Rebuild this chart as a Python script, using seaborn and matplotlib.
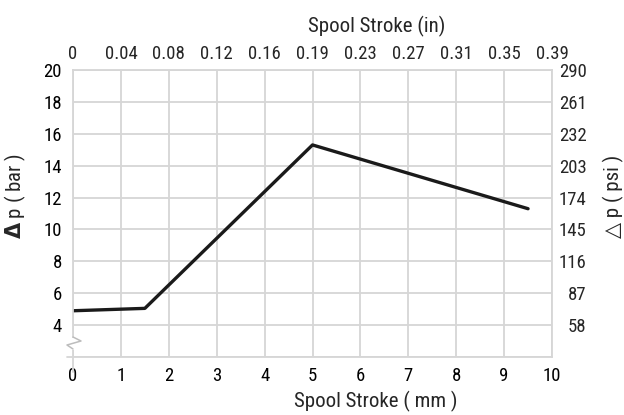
import matplotlib
matplotlib.use("Agg")
import matplotlib.pyplot as plt
from matplotlib import font_manager as fm
from matplotlib.patches import Rectangle
import seaborn as sns
import pandas as pd

# Pressure drop vs spool stroke
stroke_mm = [0.0, 1.5, 5.0, 9.5]
dp_bar = [4.9, 5.05, 15.3, 11.3]

mm_ticks = [0, 1, 2, 3, 4, 5, 6, 7, 8, 9, 10]
in_labels = ["0", "0.04", "0.08", "0.12", "0.16", "0.19", "0.23", "0.27", "0.31", "0.35", "0.39"]
bar_ticks = [4, 6, 8, 10, 12, 14, 16, 18, 20]
psi_labels = ["58", "87", "116", "145", "174", "203", "232", "261", "290"]

sns.set_style("whitegrid")

# pick a condensed sans face
available = {f.name for f in fm.fontManager.ttflist}
narrow = next((n for n in ["Liberation Sans Narrow", "Roboto Condensed", "PT Sans Narrow",
                           "Archivo Narrow", "Arimo"] if n in available), "DejaVu Sans")
FONT = [narrow, "DejaVu Sans"]
plt.rcParams["font.family"] = FONT
plt.rcParams["mathtext.fontset"] = "dejavusans"

GRID = "#d6d6d6"
TS = 13.5
LS = 15
fig = plt.figure(figsize=(6.24, 4.15), dpi=100)
ax = fig.add_axes([73 / 624, 58 / 415, 479 / 624, 287 / 415])

df = pd.DataFrame({"mm": stroke_mm, "bar": dp_bar})
sns.lineplot(data=df, x="mm", y="bar", ax=ax, color="#1a1a1a", linewidth=2.4)

ax.set_xlim(0, 10)
ax.set_ylim(2, 20)
ax.set_xticks(mm_ticks)
ax.set_yticks([2] + bar_ticks)
ax.set_yticklabels([""] + [str(v) for v in bar_ticks])
ax.grid(True, color=GRID, linewidth=1.3)
for s in ax.spines.values():
    s.set_color(GRID)
    s.set_linewidth(1.3)
ax.tick_params(axis="both", length=0, labelsize=TS, colors="black")
ax.tick_params(axis="x", pad=7)
ax.tick_params(axis="y", pad=8)

ax.set_xlabel("Spool Stroke ( mm )", fontsize=LS)
ax.xaxis.set_label_coords(0.633, -0.118)
ax.set_ylabel(r"$\mathbf{\Delta}$ p ( bar )", fontsize=LS)
ax.yaxis.set_label_coords(-0.094, 0.56)

# Top axis in inches
axt = ax.twiny()
axt.set_xlim(ax.get_xlim())
axt.set_xticks(mm_ticks)
axt.set_xticklabels(in_labels)
axt.tick_params(axis="x", length=0, labelsize=TS, pad=5)
axt.grid(False)
for s in axt.spines.values():
    s.set_visible(False)
axt.set_xlabel("Spool Stroke (in)", fontsize=LS)
axt.xaxis.set_label_coords(0.633, 1.132)

# Right axis in psi
axr = ax.twinx()
axr.set_ylim(ax.get_ylim())
axr.set_yticks(bar_ticks)
axr.set_yticklabels(psi_labels)
axr.tick_params(axis="y", length=0, labelsize=TS, pad=25)
for lab in axr.get_yticklabels():
    lab.set_horizontalalignment("right")
axr.grid(False)
for s in axr.spines.values():
    s.set_visible(False)
axr.set_ylabel("△ p ( psi )", fontsize=LS, family=FONT)
axr.yaxis.set_label_coords(1.106, 0.56)

# Axis break mark near the bottom of the left axis
def px(xp, yp):
    return ((xp - 73) / 479, (357 - yp) / 287)

x0, y0 = px(70, 350)
ax.add_patch(Rectangle((x0, y0), 6 / 479, 12 / 287, transform=ax.transAxes,
                       facecolor="white", edgecolor="none", clip_on=False, zorder=5))
zz = [px(73, 337), px(81, 341), px(67, 345), px(73, 349)]
ax.plot([p[0] for p in zz], [p[1] for p in zz], transform=ax.transAxes,
        color="#bdbdbd", linewidth=1.1, clip_on=False, zorder=6)
# stub ticks at the origin
ax.plot([0, 0], [0, -15 / 287], transform=ax.transAxes, color=GRID, linewidth=1.3, clip_on=False)
ax.plot([0, -6 / 479], [0, 0], transform=ax.transAxes, color=GRID, linewidth=1.3, clip_on=False)

fig.savefig("out.png", dpi=100)
